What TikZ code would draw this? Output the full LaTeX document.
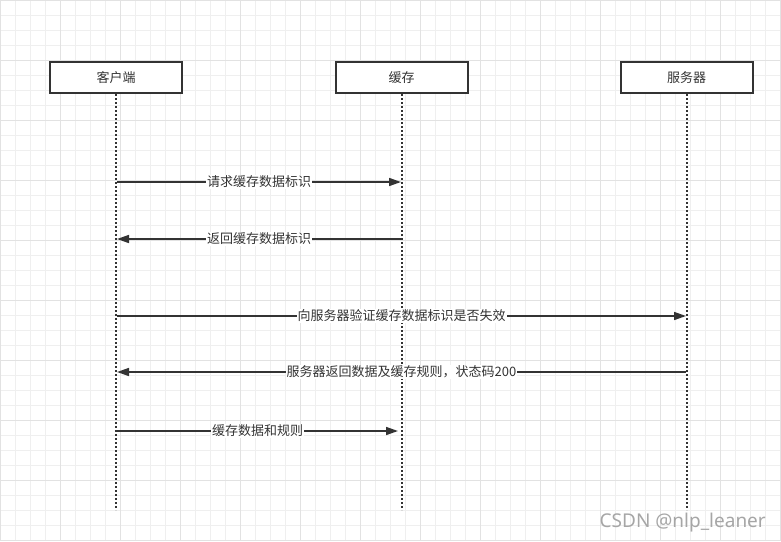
\documentclass[tikz,border=0pt]{standalone}
\usepackage{fontspec}
\newfontfamily\cjk{Noto Sans CJK SC}
\setmainfont{Noto Sans}
\usetikzlibrary{arrows.meta}
\definecolor{ink}{HTML}{333333}
\definecolor{gridminor}{HTML}{EFEFEF}
\definecolor{gridmajor}{HTML}{E2E2E2}
\tikzset{
  actor/.style={draw=ink, line width=2pt, fill=white, minimum width=132pt, minimum height=31pt, inner sep=0pt, font=\cjk\fontsize{13}{15}\selectfont, text=ink},
  lifeline/.style={draw=ink, line width=2pt, dash pattern=on 2pt off 2pt},
  msg/.style={draw=ink, line width=1.6pt, -{Triangle[length=12pt,width=8pt]}},
  msglabel/.style={fill=white, inner sep=1pt, font=\cjk\fontsize{13}{15}\selectfont, text=ink}
}
\begin{document}
\begin{tikzpicture}[x=1pt,y=-1pt]
\useasboundingbox (0,0) rectangle (781,541);
\fill[white] (0,0) rectangle (781,541);
% grid
\foreach \i in {0,15,...,780} {\draw[gridminor, line width=1pt] (\i,0) -- (\i,541);}
\foreach \j in {0,15,...,540} {\draw[gridminor, line width=1pt] (0,\j) -- (781,\j);}
\foreach \i in {0,60,...,780} {\draw[gridmajor, line width=1pt] (\i,0) -- (\i,541);}
\foreach \j in {0,60,...,540} {\draw[gridmajor, line width=1pt] (0,\j) -- (781,\j);}
% lifeline ends
\coordinate (cEnd) at (116,510);
\coordinate (kEnd) at (401.5,510);
\coordinate (sEnd) at (686.5,510);
% actors
\node[actor] (c) at (116,77.5) {客户端};
\node[actor] (k) at (401.5,77.5) {缓存};
\node[actor] (s) at (686.5,77.5) {服务器};
\draw[lifeline] (c.south) -- (cEnd);
\draw[lifeline] (k.south) -- (kEnd);
\draw[lifeline] (s.south) -- (sEnd);
% message anchor points
\coordinate (c1) at (117,182); \coordinate (k1) at (401,182);
\coordinate (k2) at (401,239); \coordinate (c2) at (117,239);
\coordinate (c3) at (117,316); \coordinate (s3) at (686,316);
\coordinate (s4) at (686,372); \coordinate (c4) at (117,372);
\coordinate (c5) at (117,431); \coordinate (k5) at (398,431);
% messages
\draw[msg] (c1) -- node[msglabel] (l1) {请求缓存数据标识} (k1);
\draw[msg] (k2) -- node[msglabel] (l2) {返回缓存数据标识} (c2);
\draw[msg] (c3) -- node[msglabel] (l3) {向服务器验证缓存数据标识是否失效} (s3);
\draw[msg] (s4) -- node[msglabel] (l4) {服务器返回数据及缓存规则，状态码200} (c4);
\draw[msg] (c5) -- node[msglabel] (l5) {缓存数据和规则} (k5);
% watermark
\node[anchor=base east, text=black!35, font=\fontsize{19}{21}\selectfont, inner sep=0pt] (wm) at (766,527) {CSDN @nlp\_leaner};
\end{tikzpicture}
\end{document}
